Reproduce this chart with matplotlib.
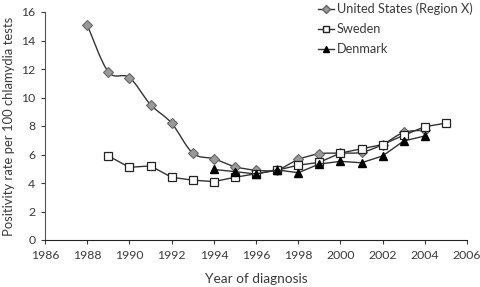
import matplotlib
matplotlib.use("Agg")
import matplotlib.pyplot as plt
from matplotlib.path import Path
from matplotlib.patches import PathPatch
from matplotlib.lines import Line2D
import numpy as np

us_years = [1988, 1989, 1990, 1991, 1992, 1993, 1994, 1995, 1996, 1997, 1998, 1999, 2000, 2001, 2002, 2003, 2004]
us_vals = [15.1, 11.8, 11.4, 9.5, 8.2, 6.1, 5.7, 5.15, 4.9, 4.92, 5.65, 6.05, 6.1, 6.15, 6.7, 7.55, 7.7]

se_years = [1989, 1990, 1991, 1992, 1993, 1994, 1995, 1996, 1997, 1998, 1999, 2000, 2001, 2002, 2003, 2004, 2005]
se_vals = [5.9, 5.1, 5.2, 4.4, 4.2, 4.1, 4.4, 4.65, 4.9, 5.25, 5.45, 6.1, 6.4, 6.7, 7.35, 7.95, 8.2]

dk_years = [1994, 1995, 1996, 1997, 1998, 1999, 2000, 2001, 2002, 2003, 2004]
dk_vals = [4.95, 4.8, 4.63, 4.92, 4.72, 5.33, 5.52, 5.42, 5.9, 6.95, 7.3]

labels = ["United States (Region X)", "Sweden", "Denmark"]
font = "Lato"

plt.rcParams['font.family'] = [font, 'DejaVu Sans']

fig = plt.figure(figsize=(4.8, 2.87), dpi=100)
ax = fig.add_axes([45/480, 47/287, 422/480, 228/287])


def smooth_path(xs, ys):
    # Catmull-Rom style smoothed curve through the data points (Excel-like)
    pts = np.column_stack([xs, ys]).astype(float)
    verts = [pts[0]]
    codes = [Path.MOVETO]
    n = len(pts)
    for i in range(n - 1):
        p0 = pts[i - 1] if i > 0 else pts[i]
        p1 = pts[i]
        p2 = pts[i + 1]
        p3 = pts[i + 2] if i + 2 < n else pts[i + 1]
        c1 = p1 + (p2 - p0) / 6.0
        c2 = p2 - (p3 - p1) / 6.0
        verts += [c1, c2, p2]
        codes += [Path.CURVE4] * 3
    return Path(verts, codes)

line_col = '#333333'
text_col = '#3a3a3a'
patch = PathPatch(smooth_path(us_years, us_vals), facecolor='none', edgecolor=line_col, lw=1.0, zorder=2)
ax.add_patch(patch)
ax.plot(us_years, us_vals, ls='none', marker='D', ms=5.2, mfc='#999999', mec='#666666', mew=0.8, zorder=3)
ax.plot(se_years, se_vals, color=line_col, lw=1.0, marker='s', ms=5.2, mfc='white', mec='#222222', mew=0.9, zorder=3)
ax.plot(dk_years, dk_vals, color=line_col, lw=1.0, marker='^', ms=6, mfc='black', mec='black', zorder=4)

ax.set_xlim(1986, 2006)
ax.set_ylim(0, 16)
ax.set_xticks(range(1986, 2007, 2))
ax.set_yticks(range(0, 17, 2))
for s in ['top', 'right']:
    ax.spines[s].set_visible(False)
ax.spines['left'].set_color('#555555')
ax.spines['bottom'].set_color('#222222')
ax.tick_params(axis='both', direction='out', length=3, labelsize=8.8, colors=text_col, pad=4)
ax.set_xlabel("Year of diagnosis", fontsize=9.8, color=text_col, labelpad=9)
ax.set_ylabel("Positivity rate per 100 chlamydia tests", fontsize=9.4, color=text_col, labelpad=4)

handles = [
    Line2D([], [], color=line_col, lw=1.0, marker='D', ms=4, mfc='#999999', mec='#666666'),
    Line2D([], [], color=line_col, lw=1.0, marker='s', ms=4, mfc='white', mec='#222222'),
    Line2D([], [], color=line_col, lw=1.0, marker='^', ms=5, mfc='black', mec='black'),
]
fig.legend(handles, labels, loc='upper left', bbox_to_anchor=(306/480, 1.03), frameon=False,
           fontsize=9.2, handlelength=1.3, handletextpad=0.2, labelspacing=0.62, labelcolor=text_col)

fig.savefig("out.png", dpi=100)
